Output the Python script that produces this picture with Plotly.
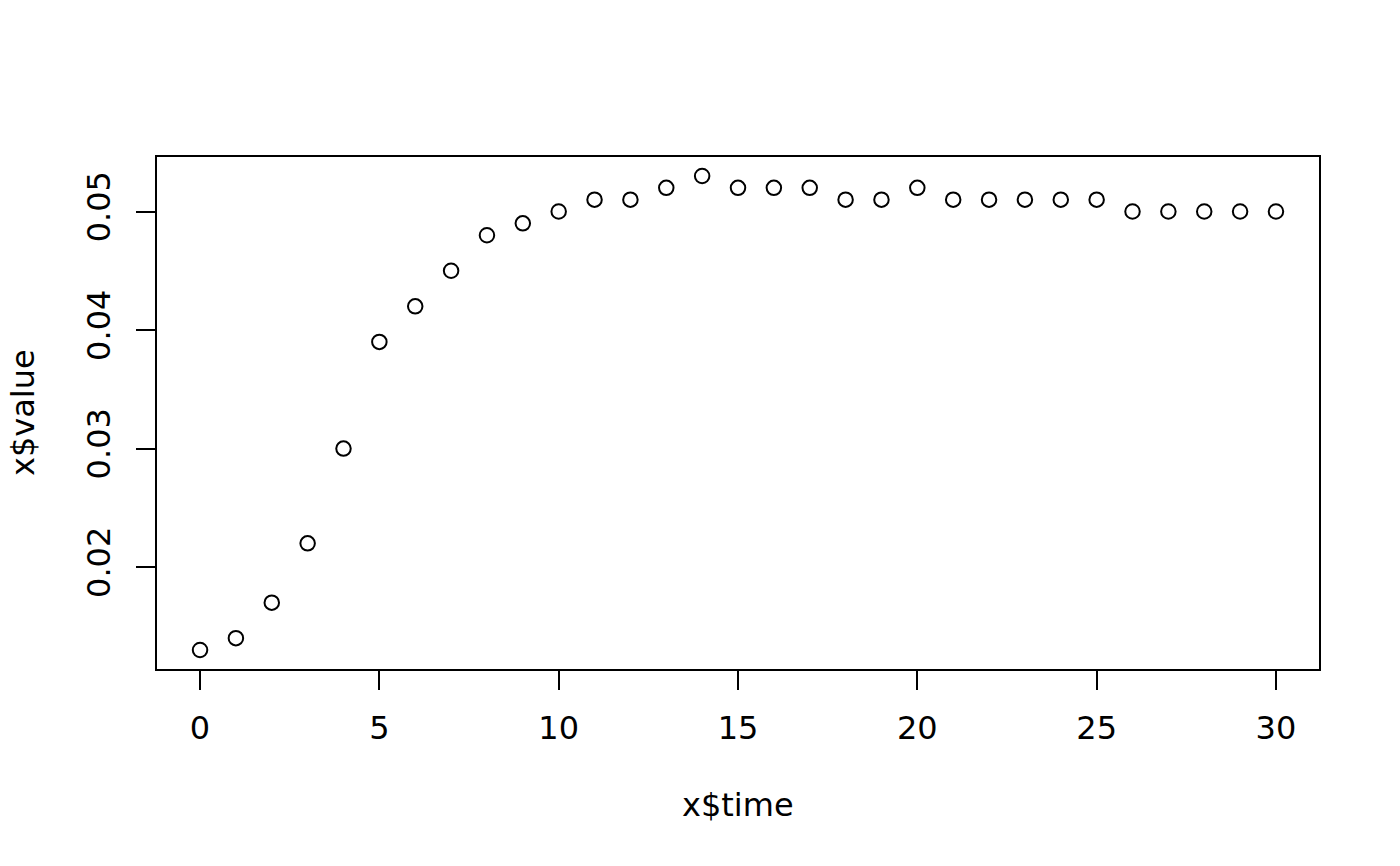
import plotly.graph_objects as go

time = list(range(0, 31))
value = [0.013, 0.014, 0.017, 0.022, 0.030, 0.039, 0.042, 0.045, 0.048, 0.049,
         0.050, 0.051, 0.051, 0.052, 0.053, 0.052, 0.052, 0.052, 0.051, 0.051,
         0.052, 0.051, 0.051, 0.051, 0.051, 0.051, 0.050, 0.050, 0.050, 0.050,
         0.050]
x_ticks = [0, 5, 10, 15, 20, 25, 30]
y_ticks = [0.02, 0.03, 0.04, 0.05]
y_labels = ["0.02", "0.03", "0.04", "0.05"]

FONT = "DejaVu Sans"
FS = 32

fig = go.Figure()
fig.add_trace(go.Scatter(
    x=time, y=value, mode="markers",
    marker=dict(symbol="circle-open", size=14.5, color="black", line=dict(width=2, color="black")),
    showlegend=False, hoverinfo="skip"))

xmin, xmax = min(time), max(time)
ymin, ymax = min(value), max(value)
dx = (xmax - xmin) * 0.04
dy = (ymax - ymin) * 0.04

axis_common = dict(showline=True, linecolor="black", linewidth=2, mirror=True,
                   ticks="outside", ticklen=19, tickwidth=2, tickcolor="black",
                   showgrid=False, zeroline=False,
                   tickfont=dict(family=FONT, size=FS, color="black"))

fig.update_xaxes(range=[xmin - dx, xmax + dx], tickvals=x_ticks,
                 ticktext=[str(t) for t in x_ticks], ticklabelstandoff=11, **axis_common)
fig.update_yaxes(range=[ymin - dy, ymax + dy], tickvals=y_ticks, ticktext=y_labels,
                 tickangle=-90, ticklabelstandoff=13, **axis_common)

fig.add_annotation(text="x$time", xref="paper", yref="paper", x=0.5, y=0,
                   yshift=-136, showarrow=False, xanchor="center", yanchor="middle",
                   font=dict(family=FONT, size=FS, color="black"))
fig.add_annotation(text="x$value", xref="paper", yref="paper", x=0, y=0.5,
                   xshift=-134, showarrow=False, xanchor="center", yanchor="middle",
                   textangle=-90, borderpad=0, font=dict(family=FONT, size=FS, color="black"))

# page body has an 8px margin; figure sized to fit the 1400x866 window
fig.update_layout(width=1384, height=850, plot_bgcolor="white", paper_bgcolor="white",
                  margin=dict(l=149, r=73, t=149, b=189),
                  font=dict(family=FONT, size=FS, color="black"))

fig.write_html("out.html")
